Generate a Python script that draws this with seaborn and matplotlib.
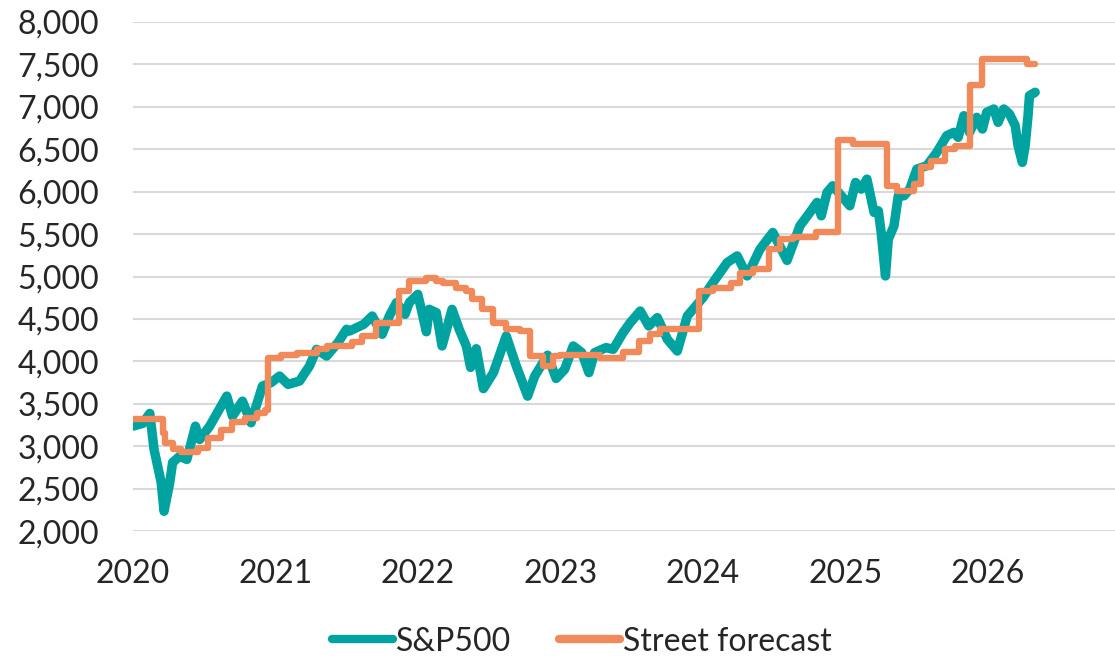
import numpy as np
import pandas as pd
import matplotlib
matplotlib.use('Agg')
import matplotlib.pyplot as plt
import matplotlib.ticker as mticker
import seaborn as sns

# S&P500 level (decimal year, index level)
sp_years = [2020.00, 2020.07, 2020.12, 2020.15, 2020.20, 2020.22, 2020.26, 2020.28, 2020.33, 2020.38,
            2020.44, 2020.47, 2020.54, 2020.66, 2020.70, 2020.77, 2020.83, 2020.91, 2020.97, 2021.03,
            2021.09, 2021.17, 2021.24, 2021.29, 2021.36, 2021.44, 2021.50, 2021.52, 2021.62, 2021.68,
            2021.75, 2021.80, 2021.85, 2021.91, 2021.94, 2022.00, 2022.06, 2022.08, 2022.13, 2022.17,
            2022.24, 2022.29, 2022.34, 2022.37, 2022.41, 2022.46, 2022.53, 2022.62, 2022.69, 2022.77,
            2022.82, 2022.91, 2022.97, 2023.03, 2023.09, 2023.15, 2023.20, 2023.24, 2023.32, 2023.37,
            2023.44, 2023.49, 2023.56, 2023.62, 2023.68, 2023.75, 2023.82, 2023.89, 2023.93, 2024.00,
            2024.07, 2024.17, 2024.24, 2024.31, 2024.40, 2024.49, 2024.59, 2024.68, 2024.75, 2024.80,
            2024.83, 2024.87, 2024.91, 2024.98, 2025.03, 2025.07, 2025.11, 2025.15, 2025.20, 2025.23,
            2025.25, 2025.28, 2025.30, 2025.34, 2025.37, 2025.41, 2025.45, 2025.50, 2025.57, 2025.64,
            2025.71, 2025.76, 2025.79, 2025.83, 2025.87, 2025.92, 2025.96, 2025.99, 2026.04, 2026.07,
            2026.11, 2026.15, 2026.19, 2026.21, 2026.24, 2026.26, 2026.28, 2026.29, 2026.33]
sp_values = [3238, 3270, 3388, 2963, 2575, 2236, 2575, 2810, 2884, 2846,
             3238, 3081, 3238, 3592, 3356, 3533, 3278, 3710, 3750, 3828,
             3730, 3769, 3946, 4143, 4064, 4222, 4379, 4358, 4437, 4535,
             4320, 4535, 4693, 4555, 4693, 4791, 4350, 4614, 4575, 4182,
             4614, 4379, 4182, 3930, 4150, 3680, 3868, 4300, 3950, 3592,
             3828, 4074, 3800, 3907, 4182, 4104, 3868, 4104, 4163, 4143,
             4340, 4457, 4594, 4418, 4516, 4261, 4123, 4535, 4614, 4752,
             4929, 5165, 5243, 5007, 5322, 5519, 5190, 5597, 5755, 5873,
             5715, 5990, 6069, 5932, 5833, 6108, 6029, 6147, 5755, 5774,
             5519, 5007, 5440, 5597, 5951, 5951, 6029, 6265, 6305, 6462,
             6659, 6698, 6639, 6894, 6698, 6875, 6737, 6934, 6973, 6816,
             6973, 6914, 6777, 6541, 6344, 6541, 6894, 7130, 7170]

# Street forecast (year-end consensus target), step changes
fc_years = [2020.00, 2020.21, 2020.23, 2020.28, 2020.34, 2020.46, 2020.53, 2020.62, 2020.70, 2020.79,
            2020.87, 2020.93, 2020.95, 2021.04, 2021.15, 2021.29, 2021.36, 2021.54, 2021.61, 2021.71,
            2021.87, 2021.94, 2022.06, 2022.13, 2022.18, 2022.27, 2022.34, 2022.38, 2022.45, 2022.53,
            2022.62, 2022.72, 2022.79, 2022.88, 2022.95, 2023.00, 2023.28, 2023.44, 2023.55, 2023.63,
            2023.70, 2023.97, 2024.07, 2024.20, 2024.26, 2024.35, 2024.46, 2024.54, 2024.63, 2024.79,
            2024.95, 2025.05, 2025.29, 2025.36, 2025.48, 2025.53, 2025.60, 2025.70, 2025.77, 2025.87,
            2025.96, 2026.27, 2026.33]
fc_values = [3325, 3160, 3042, 2971, 2931, 2983, 3101, 3191, 3285, 3337,
             3396, 3427, 4045, 4072, 4100, 4143, 4182, 4230, 4300, 4457,
             4830, 4948, 4988, 4948, 4929, 4870, 4830, 4732, 4614, 4457,
             4379, 4360, 4064, 3946, 4064, 4075, 4045, 4107, 4241, 4320,
             4379, 4830, 4870, 4929, 5047, 5087, 5322, 5440, 5460, 5519,
             6610, 6560, 6069, 6010, 6089, 6285, 6363, 6501, 6541, 7257,
             7556, 7508, 7508]

teal = '#00A3A0'
orange = '#F08A5B'

sns.set_style('white')
plt.rcParams['font.family'] = ['Lato', 'DejaVu Sans']

fig = plt.figure(figsize=(11.15, 6.6), dpi=100)
ax = fig.add_axes([0.119, 0.195, 0.881, 0.772])

sns.lineplot(x=sp_years, y=sp_values, ax=ax, color=teal, linewidth=6.8,
             label='S&P500', solid_capstyle='round', solid_joinstyle='round')
sns.lineplot(x=fc_years, y=fc_values, ax=ax, color=orange, linewidth=4.6,
             drawstyle='steps-post', label='Street forecast',
             solid_capstyle='round', solid_joinstyle='round')

ax.set_xlim(2020, 2026.89)
ax.set_ylim(2000, 8000)
ax.set_yticks(np.arange(2000, 8001, 500))
ax.set_xticks(np.arange(2020, 2027))
ax.yaxis.set_major_formatter(mticker.FuncFormatter(lambda v, p: f'{v:,.0f}'))
ax.xaxis.set_major_formatter(mticker.FuncFormatter(lambda v, p: f'{int(v)}'))
ax.grid(axis='y', color='#D9D9D9', linewidth=1.5)
ax.set_axisbelow(True)
for s in ax.spines.values():
    s.set_visible(False)
ax.tick_params(axis='y', length=0, pad=24, labelsize=23)
ax.tick_params(axis='x', length=0, pad=20, labelsize=23)
ax.set_xlabel('')
ax.set_ylabel('')

ax.get_legend().remove()
h, l = ax.get_legend_handles_labels()
leg = fig.legend(h, l, loc='center', bbox_to_anchor=(0.522, 0.028), ncol=2, frameon=False,
                 fontsize=23, handlelength=1.9, handletextpad=0.1, columnspacing=1.5)
for line in leg.get_lines():
    line.set_linewidth(6)

fig.savefig('out.png', dpi=100)
